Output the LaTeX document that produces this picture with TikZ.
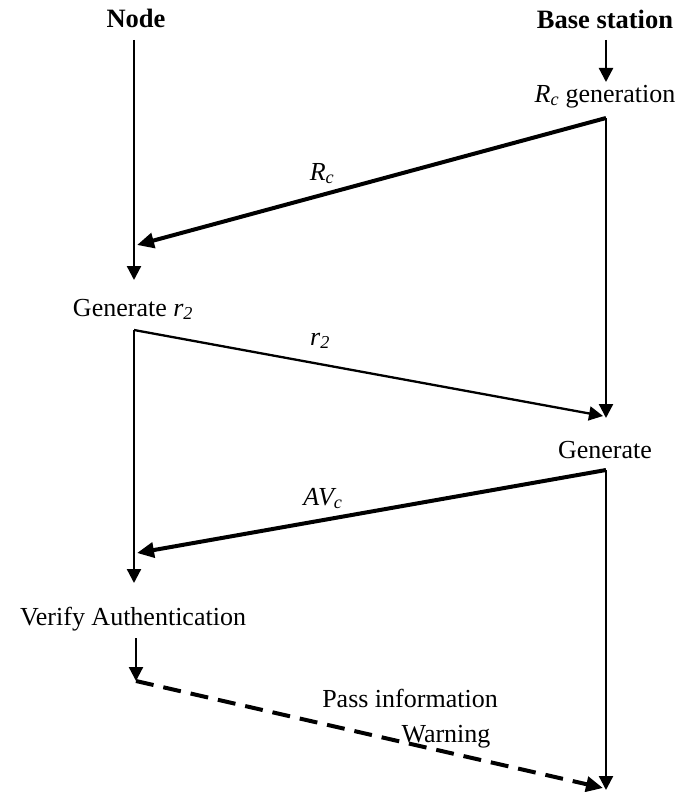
\documentclass[tikz,border=0pt]{standalone}
\usepackage{fontspec}
\setmainfont{Liberation Serif}
\usetikzlibrary{arrows.meta}
\tikzset{
  txt/.style={font=\fontsize{26}{30}\selectfont, inner sep=0pt, anchor=base},
  head/.style={txt, font=\fontsize{26.5}{30}\selectfont\bfseries},
  thickarrow/.style={line width=4pt, -{Triangle[length=17pt,width=15pt]}},
  thinarrow/.style={line width=2.3pt, -{Triangle[length=14pt,width=14pt]}},
  dasharrow/.style={line width=4pt, dash pattern=on 18pt off 10pt, -{Triangle[length=17pt,width=15pt]}}
}
\begin{document}
\begin{tikzpicture}[x=1pt,y=-1pt]
\useasboundingbox (0,0) rectangle (692,792);
% texts
\node[head] (nodeh) at (136,28) {Node};
\node[head] (bsh) at (605,29) {Base station};
\node[txt] (rcgen) at (605,102) {\textit{R\textsubscript{c}} generation};
\node[txt] (gen2) at (133,316) {Generate \textit{r\textsubscript{2}}};
\node[txt] (gen) at (605,458) {Generate};
\node[txt] (verify) at (133,625) {Verify Authentication};
\node[txt] (pass) at (410,707) {Pass information};
\node[txt] (warn) at (446,742) {Warning};
\node[txt] (lRc) at (322,180) {\textit{R\textsubscript{c}}};
\node[txt] (lr2) at (320,345) {\textit{r\textsubscript{2}}};
\node[txt] (lAV) at (323,505) {\textit{AV\textsubscript{c}}};
% coordinates
\coordinate (nTop) at (134,40);
\coordinate (n1) at (134,280);
\coordinate (hitRc) at (137,245);
\coordinate (bTop) at (606,40);
\coordinate (bArr) at (606,82);
\coordinate (b1) at (606,118);
\coordinate (b2) at (606,418);
\coordinate (n2) at (134,330);
\coordinate (hitr2) at (603,416);
\coordinate (n3) at (134,583);
\coordinate (b3) at (606,470);
\coordinate (hitAV) at (137,553);
\coordinate (b4) at (606,790);
\coordinate (v1) at (136,638);
\coordinate (v2) at (136,681);
\coordinate (hitW) at (603,788);
% connectors
\draw[thinarrow] (nTop) -- (n1);
\draw[thinarrow] (bTop) -- (bArr);
\draw[thinarrow] (b1) -- (b2);
\draw[thickarrow] (b1) -- (hitRc);
\draw[thinarrow] (n2) -- (hitr2);
\draw[thinarrow] (n2) -- (n3);
\draw[thickarrow] (b3) -- (hitAV);
\draw[thinarrow] (b3) -- (b4);
\draw[thinarrow] (v1) -- (v2);
\draw[dasharrow] (v2) -- (hitW);
\end{tikzpicture}
\end{document}
